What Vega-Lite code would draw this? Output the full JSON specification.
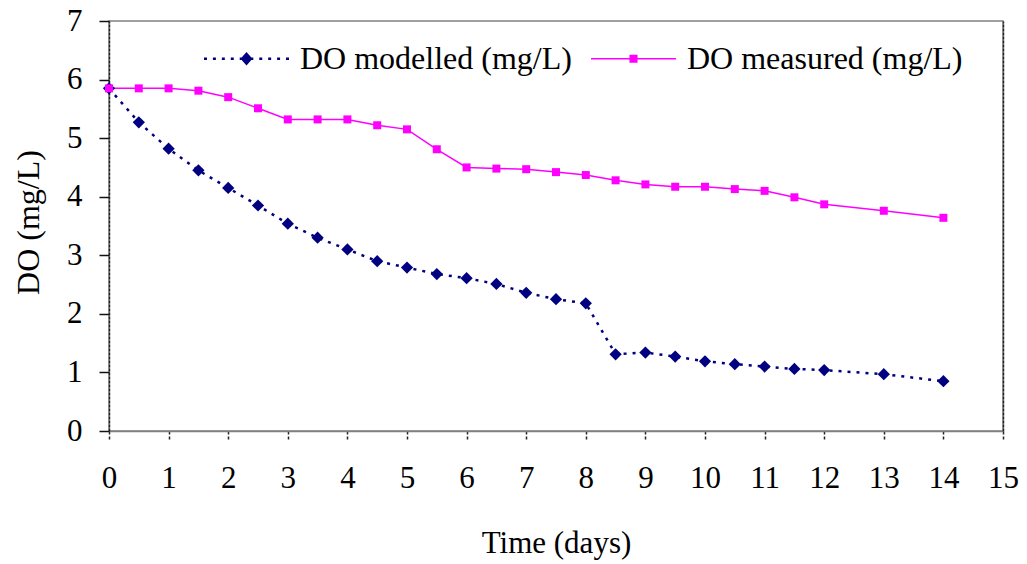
{
  "$schema": "https://vega.github.io/schema/vega-lite/v6.json",
  "width": 894,
  "height": 410,
  "autosize": {"type": "none"},
  "padding": {"left": 109, "top": 21, "right": 24, "bottom": 133},
  "background": "white",
  "config": {
    "view": {"stroke": "#808080", "strokeWidth": 1.5},
    "font": "Liberation Serif"
  },
  "data": {
    "values": [
      {"day": 0, "value": 5.85, "series": "DO modelled (mg/L)"},
      {"day": 0.5, "value": 5.27, "series": "DO modelled (mg/L)"},
      {"day": 1, "value": 4.82, "series": "DO modelled (mg/L)"},
      {"day": 1.5, "value": 4.45, "series": "DO modelled (mg/L)"},
      {"day": 2, "value": 4.15, "series": "DO modelled (mg/L)"},
      {"day": 2.5, "value": 3.85, "series": "DO modelled (mg/L)"},
      {"day": 3, "value": 3.54, "series": "DO modelled (mg/L)"},
      {"day": 3.5, "value": 3.30, "series": "DO modelled (mg/L)"},
      {"day": 4, "value": 3.10, "series": "DO modelled (mg/L)"},
      {"day": 4.5, "value": 2.90, "series": "DO modelled (mg/L)"},
      {"day": 5, "value": 2.79, "series": "DO modelled (mg/L)"},
      {"day": 5.5, "value": 2.68, "series": "DO modelled (mg/L)"},
      {"day": 6, "value": 2.61, "series": "DO modelled (mg/L)"},
      {"day": 6.5, "value": 2.51, "series": "DO modelled (mg/L)"},
      {"day": 7, "value": 2.36, "series": "DO modelled (mg/L)"},
      {"day": 7.5, "value": 2.25, "series": "DO modelled (mg/L)"},
      {"day": 8, "value": 2.18, "series": "DO modelled (mg/L)"},
      {"day": 8.5, "value": 1.31, "series": "DO modelled (mg/L)"},
      {"day": 9, "value": 1.34, "series": "DO modelled (mg/L)"},
      {"day": 9.5, "value": 1.27, "series": "DO modelled (mg/L)"},
      {"day": 10, "value": 1.19, "series": "DO modelled (mg/L)"},
      {"day": 10.5, "value": 1.14, "series": "DO modelled (mg/L)"},
      {"day": 11, "value": 1.10, "series": "DO modelled (mg/L)"},
      {"day": 11.5, "value": 1.06, "series": "DO modelled (mg/L)"},
      {"day": 12, "value": 1.04, "series": "DO modelled (mg/L)"},
      {"day": 13, "value": 0.97, "series": "DO modelled (mg/L)"},
      {"day": 14, "value": 0.85, "series": "DO modelled (mg/L)"},
      {"day": 0, "value": 5.85, "series": "DO measured (mg/L)"},
      {"day": 0.5, "value": 5.85, "series": "DO measured (mg/L)"},
      {"day": 1, "value": 5.85, "series": "DO measured (mg/L)"},
      {"day": 1.5, "value": 5.81, "series": "DO measured (mg/L)"},
      {"day": 2, "value": 5.70, "series": "DO measured (mg/L)"},
      {"day": 2.5, "value": 5.51, "series": "DO measured (mg/L)"},
      {"day": 3, "value": 5.32, "series": "DO measured (mg/L)"},
      {"day": 3.5, "value": 5.32, "series": "DO measured (mg/L)"},
      {"day": 4, "value": 5.32, "series": "DO measured (mg/L)"},
      {"day": 4.5, "value": 5.22, "series": "DO measured (mg/L)"},
      {"day": 5, "value": 5.15, "series": "DO measured (mg/L)"},
      {"day": 5.5, "value": 4.81, "series": "DO measured (mg/L)"},
      {"day": 6, "value": 4.50, "series": "DO measured (mg/L)"},
      {"day": 6.5, "value": 4.48, "series": "DO measured (mg/L)"},
      {"day": 7, "value": 4.47, "series": "DO measured (mg/L)"},
      {"day": 7.5, "value": 4.42, "series": "DO measured (mg/L)"},
      {"day": 8, "value": 4.37, "series": "DO measured (mg/L)"},
      {"day": 8.5, "value": 4.28, "series": "DO measured (mg/L)"},
      {"day": 9, "value": 4.21, "series": "DO measured (mg/L)"},
      {"day": 9.5, "value": 4.17, "series": "DO measured (mg/L)"},
      {"day": 10, "value": 4.17, "series": "DO measured (mg/L)"},
      {"day": 10.5, "value": 4.13, "series": "DO measured (mg/L)"},
      {"day": 11, "value": 4.10, "series": "DO measured (mg/L)"},
      {"day": 11.5, "value": 3.99, "series": "DO measured (mg/L)"},
      {"day": 12, "value": 3.87, "series": "DO measured (mg/L)"},
      {"day": 13, "value": 3.76, "series": "DO measured (mg/L)"},
      {"day": 14, "value": 3.64, "series": "DO measured (mg/L)"}
    ]
  },
  "encoding": {
    "x": {
      "field": "day",
      "type": "quantitative",
      "scale": {"domain": [0, 15], "nice": false, "zero": false},
      "axis": {
        "values": [0,1,2,3,4,5,6,7,8,9,10,11,12,13,14,15],
        "grid": false,
        "tickSize": 10,
        "tickColor": "#222",
        "tickWidth": 1.5,
        "tickDash": [3, 2],
        "domainColor": "#808080",
        "domainWidth": 1.5,
        "labelFont": "Liberation Serif",
        "labelFontSize": 31,
        "labelColor": "black",
        "labelPadding": 22,
        "labelAngle": 0,
        "labelFlush": false,
        "labelOverlap": false,
        "title": "Time (days)",
        "titleFont": "Liberation Serif",
        "titleFontSize": 31,
        "titleFontWeight": "normal",
        "titleColor": "black",
        "titleBaseline": "middle",
        "titleY": 112
      }
    }
  },
  "layer": [
    {
      "transform": [{"filter": "datum.series == 'DO modelled (mg/L)'"}],
      "mark": {"type": "line", "stroke": "#000080", "strokeWidth": 2.5, "strokeDash": [3, 6]},
      "encoding": {
        "y": {
          "field": "value",
          "type": "quantitative",
          "scale": {"domain": [0, 7], "nice": false},
          "axis": {
            "values": [0,1,2,3,4,5,6,7],
            "grid": false,
            "tickSize": 10,
            "tickColor": "#111",
            "tickWidth": 1.5,
            "domainColor": "#222",
            "domainWidth": 1.5,
            "domainDash": [3, 1],
            "labelFont": "Liberation Serif",
            "labelFontSize": 31,
            "labelColor": "black",
            "labelPadding": 17,
            "labelFlush": false,
            "labelOverlap": false,
            "title": "DO (mg/L)",
            "titleFont": "Liberation Serif",
            "titleFontSize": 32,
            "titleFontWeight": "normal",
            "titleColor": "black",
            "titleAngle": -90,
            "titleAlign": "center",
            "titleBaseline": "middle",
            "titleX": -81,
            "titleY": 201
          }
        }
      }
    },
    {
      "transform": [{"filter": "datum.series == 'DO measured (mg/L)'"}],
      "mark": {"type": "line", "stroke": "#FF00FF", "strokeWidth": 1.5},
      "encoding": {
        "y": {
          "field": "value",
          "type": "quantitative",
          "scale": {"domain": [0, 7], "nice": false},
          "axis": {
            "orient": "right",
            "grid": false,
            "labels": false,
            "ticks": false,
            "title": null,
            "domainColor": "#222",
            "domainWidth": 1.5,
            "domainDash": [3, 1]
          }
        }
      }
    },
    {
      "transform": [{"filter": "datum.series == 'DO modelled (mg/L)'"}],
      "mark": {"type": "point", "filled": true, "opacity": 1, "shape": "diamond", "size": 150, "color": "#000080"},
      "encoding": {
        "y": {
          "field": "value",
          "type": "quantitative",
          "scale": {"domain": [0, 7], "nice": false},
          "axis": null
        }
      }
    },
    {
      "transform": [{"filter": "datum.series == 'DO measured (mg/L)'"}],
      "mark": {"type": "point", "filled": true, "opacity": 1, "shape": "square", "size": 64, "color": "#FF00FF"},
      "encoding": {
        "y": {
          "field": "value",
          "type": "quantitative",
          "scale": {"domain": [0, 7], "nice": false},
          "axis": null
        }
      }
    },
    {
      "transform": [{"filter": "false"}],
      "mark": {"type": "point", "filled": true, "opacity": 1, "size": 7225},
      "encoding": {
        "y": {
          "field": "value",
          "type": "quantitative",
          "scale": {"domain": [0, 7], "nice": false},
          "axis": null
        },
        "color": {
          "field": "series",
          "type": "nominal",
          "scale": {"domain": ["DO modelled (mg/L)", "DO measured (mg/L)"], "range": ["#000080", "#FF00FF"]},
          "legend": {
            "orient": "none",
            "legendX": 94,
            "legendY": -6,
            "direction": "horizontal",
            "title": null,
            "padding": 0,
            "labelFont": "Liberation Serif",
            "labelFontSize": 32,
            "labelColor": "black",
            "labelLimit": 500,
            "labelOffset": 10,
            "columnPadding": 16,
            "symbolSize": 7225,
            "symbolOpacity": 1
          }
        },
        "shape": {
          "field": "series",
          "type": "nominal",
          "scale": {
            "domain": ["DO modelled (mg/L)", "DO measured (mg/L)"],
            "range": [
              "M-1,-0.03H-0.93V0.03H-1Z M-0.79,-0.03H-0.72V0.03H-0.79Z M-0.58,-0.03H-0.51V0.03H-0.58Z M-0.37,-0.03H-0.30V0.03H-0.37Z M-0.16,-0.03H-0.09V0.03H-0.16Z M0.09,-0.03H0.16V0.03H0.09Z M0.30,-0.03H0.37V0.03H0.30Z M0.51,-0.03H0.58V0.03H0.51Z M0.72,-0.03H0.79V0.03H0.72Z M0.93,-0.03H1V0.03H0.93Z M0,-0.16L0.14,0L0,0.16L-0.14,0Z",
              "M-1,-0.018H1V0.018H-1Z M-0.095,-0.095H0.095V0.095H-0.095Z"
            ]
          },
          "legend": {
            "orient": "none",
            "legendX": 94,
            "legendY": -6,
            "direction": "horizontal",
            "title": null,
            "padding": 0,
            "labelFont": "Liberation Serif",
            "labelFontSize": 32,
            "labelColor": "black",
            "labelLimit": 500,
            "labelOffset": 10,
            "columnPadding": 16,
            "symbolSize": 7225,
            "symbolOpacity": 1
          }
        }
      }
    }
  ],
  "resolve": {"axis": {"y": "independent"}}
}
